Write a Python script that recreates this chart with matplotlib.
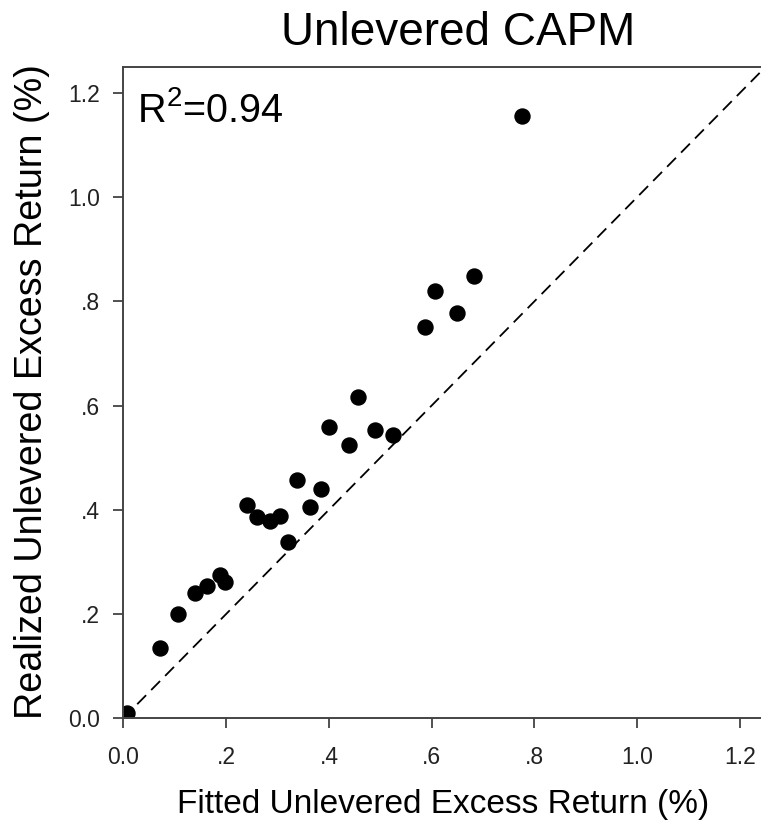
import matplotlib
matplotlib.use("Agg")
import matplotlib.pyplot as plt

plt.rcParams['font.family'] = ['Liberation Sans', 'DejaVu Sans']
plt.rcParams['mathtext.fontset'] = 'custom'
plt.rcParams['mathtext.rm'] = 'Liberation Sans'

# dados (%)
fitted = [0.007, 0.071, 0.107, 0.139, 0.162, 0.189, 0.198, 0.241, 0.261, 0.285,
          0.305, 0.321, 0.337, 0.363, 0.385, 0.401, 0.440, 0.457, 0.490, 0.525,
          0.587, 0.606, 0.649, 0.682, 0.775]
realized = [0.010, 0.134, 0.201, 0.240, 0.254, 0.275, 0.262, 0.409, 0.386, 0.379,
            0.388, 0.339, 0.457, 0.406, 0.440, 0.558, 0.525, 0.617, 0.553, 0.544,
            0.750, 0.820, 0.777, 0.849, 1.155]
tick_vals = [0.0, 0.2, 0.4, 0.6, 0.8, 1.0, 1.2]
tick_labels = ['0.0', '.2', '.4', '.6', '.8', '1.0', '1.2']
r2 = 0.94

fig = plt.figure(figsize=(7.61, 8.25), dpi=100)
ax = fig.add_axes([0.162, 0.1293, 0.8443, 0.7899])

# linha de 45 graus
ax.plot([0, 1.25], [0, 1.25], color='black', linestyle=(0, (7, 4)), linewidth=1.3, zorder=1)
ax.plot(fitted, realized, 'o', color='black', markersize=10.8, zorder=2)

ax.set_xlim(0, 1.25)
ax.set_ylim(0, 1.25)
ax.set_xticks(tick_vals)
ax.set_xticklabels(tick_labels)
ax.set_yticks(tick_vals)
ax.set_yticklabels(tick_labels)
ax.tick_params(direction='out', length=7, width=1.2, color='#333333',
               labelsize=16.5, labelcolor='#222222')
ax.tick_params(axis='x', pad=13)
ax.tick_params(axis='y', pad=10)
ax.spines['right'].set_visible(False)
for s in ['left', 'bottom', 'top']:
    ax.spines[s].set_color('#444444')
    ax.spines[s].set_linewidth(1.4)

ax.text(0.027, 1.1445, r'R$^{\mathregular{2}}$=' + f'{r2:.2f}', fontsize=28.5, va='baseline', ha='left')

fig.text(0.602, 0.945, 'Unlevered CAPM', fontsize=33, ha='center', va='baseline')
fig.text(0.582, 0.014, 'Fitted Unlevered Excess Return (%)', fontsize=24, ha='center', va='baseline')
fig.text(0.042, 0.5255, 'Realized Unlevered Excess Return (%)', fontsize=27.2, rotation=90,
         ha='center', va='center')

fig.savefig('out.png', dpi=100)
